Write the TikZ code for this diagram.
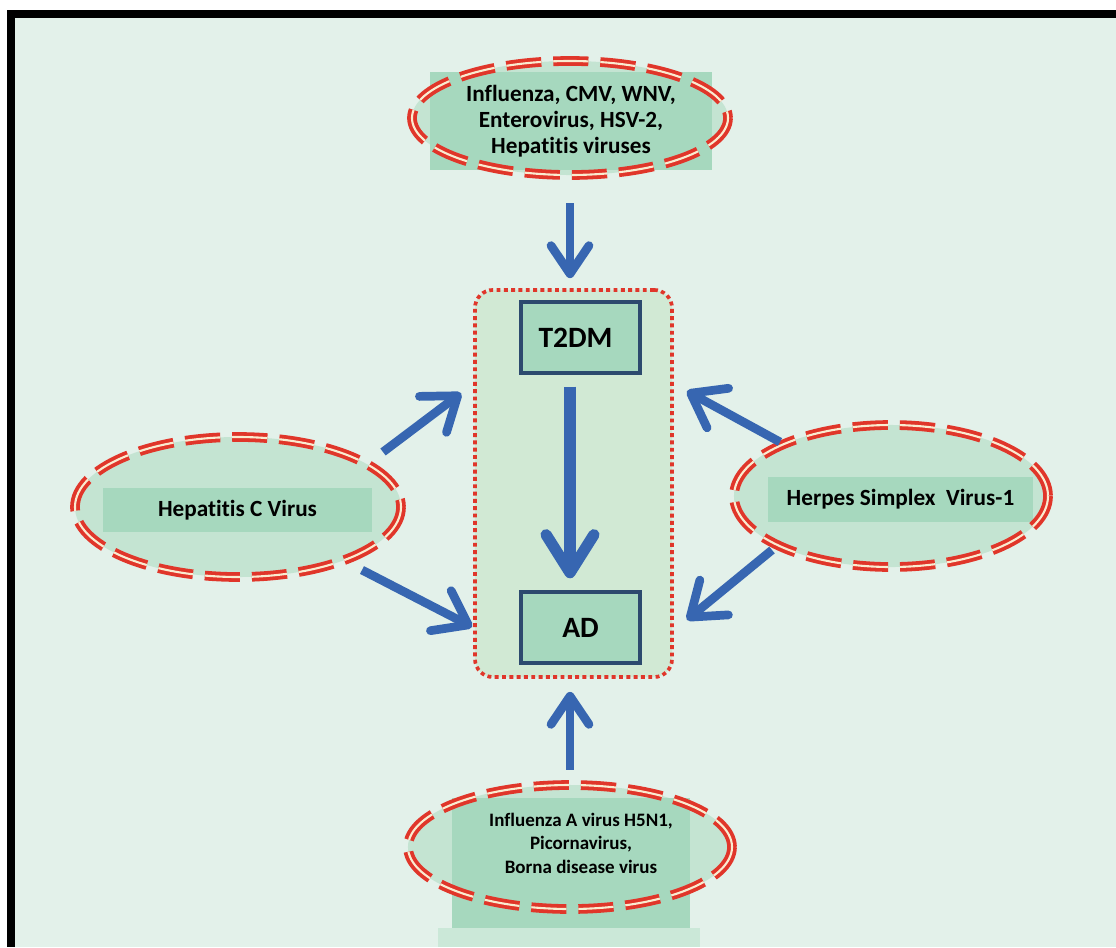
\documentclass[tikz,border=0pt]{standalone}
\usepackage{fontspec}
\setmainfont{Carlito}[Ligatures={NoCommon}]
\usepackage{tikz}
\usetikzlibrary{arrows.meta,shapes.geometric}
\definecolor{cfondo}{HTML}{E3F1EA}
\definecolor{celipse}{HTML}{C4E4D2}
\definecolor{cfranja}{HTML}{A6D8BE}
\definecolor{cbase}{HTML}{CBE8D8}
\definecolor{ccaja}{HTML}{D1E9D4}
\definecolor{cmarco}{HTML}{2C4A6E}
\definecolor{cazul}{HTML}{3766B1}
\definecolor{crojo}{HTML}{E0362A}
\definecolor{ccrema}{HTML}{FAEBD0}
\tikzset{
  elipse/.style={ellipse, fill=celipse, inner sep=0pt},
  borde/.style={draw=crojo, line width=2.7pt, double=ccrema, double distance=1.5pt,
    dash pattern=on 25pt off 8.5pt},
  franja/.style={rectangle, fill=cfranja, inner sep=0pt, align=center,
    font=\fontsize{16.5}{18.5}\selectfont\bfseries},
  texto/.style={align=center, font=\fontsize{13.5}{16.7}\selectfont\bfseries},
  caja/.style={rectangle, rounded corners=0.45cm, fill=ccaja, draw=crojo, line width=2.6pt,
    dash pattern=on 2.8pt off 2.4pt, inner sep=0pt},
  cuadro/.style={rectangle, fill=cfranja, draw=cmarco, line width=2.4pt, inner sep=0pt,
    minimum width=2.975cm, minimum height=1.775cm, font=\fontsize{21}{25}\selectfont\bfseries},
  flecha/.style={draw=cazul, line width=6.2pt, -{Straight Barb[round, length=22pt, width=32pt]}},
}
\begin{document}
\begin{tikzpicture}[x=0.025cm, y=-0.025cm]
  \useasboundingbox (0,0) rectangle (1116,947);
  \fill[white] (0,0) rectangle (1116,947);
  \fill[black] (7,10) rectangle (1116,947);
  \fill[cfondo] (15,18) rectangle (1116,947);

  % centro
  \node[caja, minimum width=4.925cm, minimum height=9.675cm] (caja) at (573.5,483.5) {};
  \node[cuadro] (t2dm) at (580.5,337.5) {\hspace*{-0.25cm}T2DM};
  \node[cuadro] (ad) at (580.5,627.5) {AD};

  % virus arriba
  \node[elipse, minimum width=7.9cm, minimum height=2.85cm] (vsup) at (570,118) {};
  \node[franja, minimum width=7.05cm, minimum height=2.45cm] (tsup) at (571,121)
    {Influenza, CMV, WNV,\\Enterovirus, HSV-2,\\Hepatitis viruses};
  \draw[borde] (vsup.center) ellipse [x radius=158, y radius=57];

  % virus izquierda
  \node[elipse, minimum width=8.15cm, minimum height=3.5cm] (vizq) at (238,507) {};
  \node[franja, minimum width=6.725cm, minimum height=1.1cm] (tizq) at (237.5,510) {Hepatitis C Virus};
  \draw[borde] (vizq.center) ellipse [x radius=163, y radius=70];

  % virus derecha
  \node[elipse, minimum width=7.85cm, minimum height=3.55cm] (vder) at (891,496) {};
  \node[franja, minimum width=6.625cm, minimum height=1.125cm] (tder) at (900.5,499.5) {Herpes Simplex~~Virus-1};
  \draw[borde] (vder.center) ellipse [x radius=157, y radius=71];

  % virus abajo
  \node[elipse, minimum width=8.1cm, minimum height=3.1cm] (vinf) at (570,847) {};
  \fill[cfranja] (452,798) rectangle (690,928);
  \fill[cbase] (438,928) rectangle (700,947);
  \node[texto] (tinf) at (581,843)
    {Influenza A virus H5N1,\\Picornavirus,\\Borna disease virus};
  \draw[borde] (vinf.center) ellipse [x radius=162, y radius=62];

  % flechas
  \draw[flecha, -{Straight Barb[round, length=20pt, width=27pt]}]
    ([shift={(0,28)}]vsup.south) -- ([shift={(-3.5,-10)}]caja.north);
  \draw[flecha, line width=8pt, -{Straight Barb[round, length=27pt, width=34pt]}]
    ([shift={(-10.5,12)}]t2dm.south) -- ([shift={(-10.5,-12)}]ad.north);
  \draw[flecha, -{Straight Barb[round, length=20pt, width=27pt]}]
    ([shift={(0,-15)}]vinf.north) -- ([shift={(-3.5,13)}]caja.south);
  \draw[flecha] ([shift={(145,-55)}]vizq.center) -- ([shift={(-12,105)}]caja.north west);
  \draw[flecha] ([shift={(124,63)}]vizq.center) -- ([shift={(-1,-52)}]caja.south west);
  \draw[flecha] ([shift={(-111,-54)}]vder.center) -- ([shift={(13,103)}]caja.north east);
  \draw[flecha] ([shift={(-119,54)}]vder.center) -- ([shift={(13,-59)}]caja.south east);
\end{tikzpicture}
\end{document}
